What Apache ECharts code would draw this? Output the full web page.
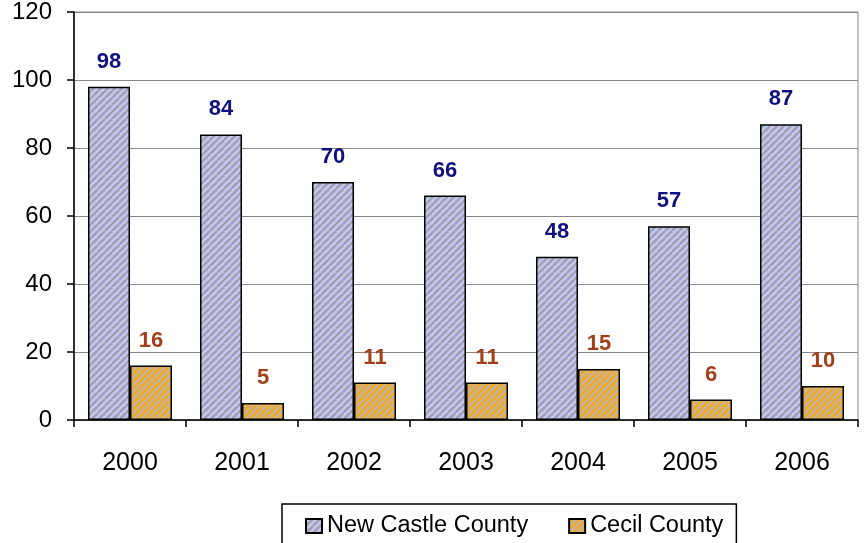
<!DOCTYPE html>
<html><head><meta charset="utf-8">
<script src="https://cdn.jsdelivr.net/npm/echarts@6/dist/echarts.min.js"></script>
<style>html,body{margin:0;padding:0;background:#fff}#c{width:864px;height:543px}</style>
</head><body><div id="c"></div>
<script>
const years = ['2000','2001','2002','2003','2004','2005','2006'];
const newCastle = [98, 84, 70, 66, 48, 57, 87];
const cecil = [16, 5, 11, 11, 15, 6, 10];
const yTicks = [0, 20, 40, 60, 80, 100, 120];

function stripe(bg, fg) {
  const s = 7, c = document.createElement('canvas');
  c.width = s; c.height = s;
  const x = c.getContext('2d');
  x.fillStyle = bg; x.fillRect(0, 0, s, s);
  x.strokeStyle = fg; x.lineWidth = 2.4;
  for (let k = -1; k <= 1; k++) {
    x.beginPath(); x.moveTo(k * s, s); x.lineTo(k * s + s, 0); x.stroke();
  }
  return c;
}
const fontFam = '"Liberation Sans", Arial, sans-serif';
const chart = echarts.init(document.getElementById('c'), null, {renderer: 'canvas'});
chart.setOption({
  animation: false,
  grid: {left: 74, right: 6, top: 12, bottom: 123, show: true, borderColor: '#888', borderWidth: 1},
  legend: {
    top: 504, left: 282,
    data: ['New Castle County', 'Cecil County'],
    backgroundColor: '#fff', borderColor: '#000', borderWidth: 1.5,
    padding: [10, 13, 20, 23], itemGap: 40, itemWidth: 16, itemHeight: 14,
    icon: 'rect',
    textStyle: {fontFamily: fontFam, fontSize: 23.5, color: '#000'}
  },
  xAxis: {
    type: 'category', data: years,
    axisLine: {lineStyle: {color: '#000', width: 1.5}},
    axisTick: {show: true, length: 7, lineStyle: {color: '#000', width: 1.5}},
    axisLabel: {fontFamily: fontFam, fontSize: 25, color: '#000', margin: 31}
  },
  yAxis: {
    type: 'value', min: 0, max: 120, interval: 20,
    axisLine: {show: true, lineStyle: {color: '#000', width: 1.5}},
    axisTick: {show: true, length: 7, lineStyle: {color: '#000', width: 1.5}},
    axisLabel: {fontFamily: fontFam, fontSize: 24, color: '#000', margin: 22,
      formatter: v => yTicks.includes(v) ? String(v) : ''},
    splitLine: {lineStyle: {color: '#888', width: 1}}
  },
  series: [
    {name: 'New Castle County', type: 'bar', data: newCastle, barGap: '0%', barCategoryGap: '25%',
     itemStyle: {color: {image: stripe('#C3C6F2', '#A0A0AC'), repeat: 'repeat'}, borderColor: '#000', borderWidth: 1.5},
     label: {show: true, position: 'top', distance: 14, fontFamily: fontFam, fontSize: 22, fontWeight: 'bold', color: '#10107F'}},
    {name: 'Cecil County', type: 'bar', data: cecil,
     itemStyle: {color: {image: stripe('#F7A821', '#BDB8A8'), repeat: 'repeat'}, borderColor: '#000', borderWidth: 1.5},
     label: {show: true, position: 'top', distance: 14, fontFamily: fontFam, fontSize: 22, fontWeight: 'bold', color: '#A3401A'}}
  ]
});
</script></body></html>
